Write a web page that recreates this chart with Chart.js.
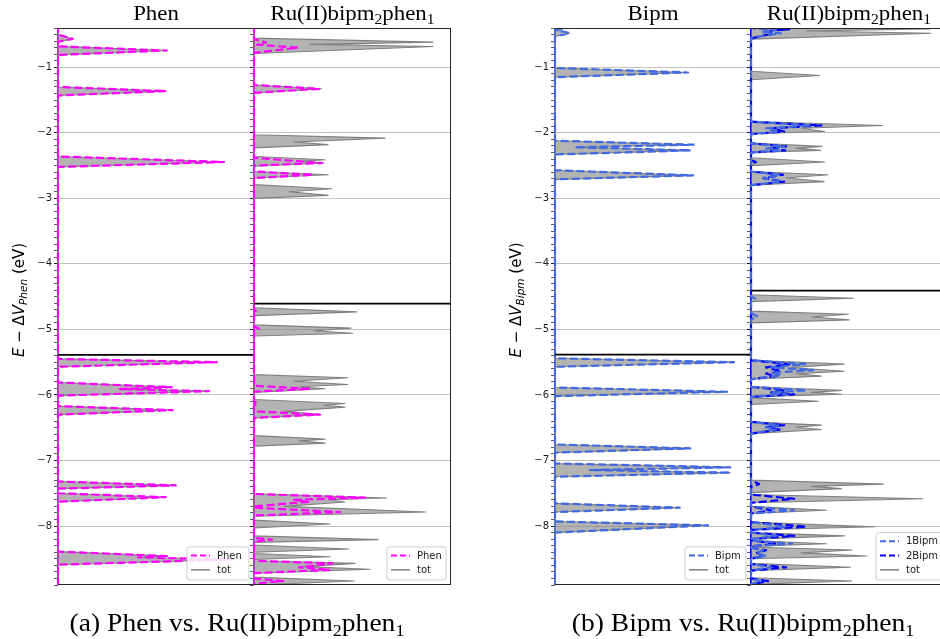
<!DOCTYPE html>
<html><head><meta charset="utf-8">
<script src="https://cdn.jsdelivr.net/npm/chart.js@4.4.1/dist/chart.umd.min.js"></script>
<style>
html,body{margin:0;padding:0;background:#fff;overflow:hidden;width:940px;height:639px}
#wrap{position:relative;width:940px;height:639px;overflow:hidden;background:#fff}
canvas{position:absolute}
svg{position:absolute;left:0;top:0}
</style></head><body>
<div id="wrap">
<canvas id="aL" width="256" height="575" style="left:0px;top:20px"></canvas>
<canvas id="aR" width="206" height="575" style="left:248px;top:20px"></canvas>
<canvas id="bL" width="256" height="575" style="left:497px;top:20px"></canvas>
<canvas id="bR" width="206" height="575" style="left:745px;top:20px"></canvas>
<svg width="940" height="639" xmlns="http://www.w3.org/2000/svg">
  <g font-family="'Liberation Serif', 'DejaVu Serif', serif" font-size="22" fill="#000" text-anchor="middle">
    <text transform="translate(156,19.5) scale(1.04,1)">Phen</text>
    <text transform="translate(352.5,19.5) scale(1.04,1)">Ru(II)bipm<tspan dy="4" font-size="15">2</tspan><tspan dy="-4">phen</tspan><tspan dy="4" font-size="15">1</tspan></text>
    <text transform="translate(653,19.5) scale(1.04,1)">Bipm</text>
    <text transform="translate(849,19.5) scale(1.04,1)">Ru(II)bipm<tspan dy="4" font-size="15">2</tspan><tspan dy="-4">phen</tspan><tspan dy="4" font-size="15">1</tspan></text>
  </g>
  <g font-family="'Liberation Serif', 'DejaVu Serif', serif" font-size="26" fill="#000" text-anchor="middle">
    <text transform="translate(237,631) scale(1.06,1)">(a) Phen vs. Ru(II)bipm<tspan dy="5" font-size="17">2</tspan><tspan dy="-5">phen</tspan><tspan dy="5" font-size="17">1</tspan></text>
    <text transform="translate(743,631) scale(1.06,1)">(b) Bipm vs. Ru(II)bipm<tspan dy="5" font-size="17">2</tspan><tspan dy="-5">phen</tspan><tspan dy="5" font-size="17">1</tspan></text>
  </g>
  <g font-family="'DejaVu Sans', sans-serif" font-size="15" fill="#000" text-anchor="middle">
    <text transform="translate(24,300) rotate(-90)"><tspan font-style="italic">E</tspan> − Δ<tspan font-style="italic">V</tspan><tspan font-style="italic" font-size="10.5" dy="3">Phen</tspan><tspan dy="-3"> (eV)</tspan></text>
    <text transform="translate(521,300) rotate(-90)"><tspan font-style="italic">E</tspan> − Δ<tspan font-style="italic">V</tspan><tspan font-style="italic" font-size="10.5" dy="3">Bipm</tspan><tspan dy="-3"> (eV)</tspan></text>
  </g>
</svg>
</div>
<script>
// ---------------- data (energy in eV, DOS in arbitrary units) ----------------
const energyRange = [-8.9, -0.4];
const homoLevels = { phen: -5.387, ruA: -4.605, bipm: -5.383, ruB: -4.407 };

// isolated Phen fragment: total DOS (identical to its Phen projection)
const phenFrag = [
  [-0.35,0],[-0.50,0],[-0.566,1.47],[-0.61,0],[-0.68,0],[-0.744,10.87],[-0.81,0],
  [-1.30,0],[-1.363,10.8],[-1.43,0],
  [-2.36,0],[-2.445,16.6],[-2.52,0],
  [-5.45,0],[-5.50,15.87],[-5.57,0],
  [-5.81,0],[-5.881,11.37],[-5.91,6.2],[-5.942,15.1],[-6.01,0],
  [-6.17,0],[-6.232,11.47],[-6.30,0],
  [-7.32,0],[-7.38,11.77],[-7.43,0],
  [-7.50,0],[-7.56,10.77],[-7.63,0],
  [-8.39,0],[-8.46,11.0],[-8.48,8.0],[-8.51,17.5],[-8.59,0],[-8.95,0]
];

// Ru(II)bipm2phen1 complex, panel (a): total DOS
const ruTotA = [
  [-0.35,0],[-0.555,0],[-0.616,17.87],[-0.65,5.6],[-0.683,17.9],[-0.79,0],
  [-1.27,0],[-1.328,6.77],[-1.39,0],
  [-2.03,0],[-2.08,13.1],[-2.14,4.0],[-2.18,7.4],[-2.23,0],
  [-2.36,0],[-2.41,7.1],[-2.435,4.5],[-2.46,7.0],[-2.51,0],
  [-2.59,0],[-2.639,7.43],[-2.69,0],
  [-2.79,0],[-2.852,7.77],[-2.90,3.5],[-2.954,7.43],[-3.00,0],
  [-4.67,0],[-4.732,10.27],[-4.79,0],
  [-4.93,0],[-4.98,9.7],[-5.02,6.0],[-5.058,9.87],[-5.10,0],
  [-5.69,0],[-5.738,9.37],[-5.79,4.0],[-5.84,9.37],[-5.875,4.5],[-5.906,7.1],[-5.96,0],
  [-6.07,0],[-6.13,9.1],[-6.158,7.0],[-6.186,9.1],[-6.25,3.0],[-6.30,6.6],[-6.35,0],
  [-6.62,0],[-6.674,7.1],[-6.70,4.5],[-6.735,7.1],[-6.78,0],
  [-7.51,0],[-7.573,13.27],[-7.60,7.5],[-7.634,9.1],[-7.70,3.0],[-7.787,17.17],[-7.85,0],
  [-7.91,0],[-7.97,7.6],[-8.03,0],
  [-8.15,0],[-8.207,12.43],[-8.25,0],
  [-8.29,0],[-8.35,9.47],[-8.40,0],
  [-8.42,0],[-8.47,7.6],[-8.51,0],
  [-8.53,0],[-8.57,10.1],[-8.62,5.0],[-8.66,11.6],[-8.72,0],
  [-8.78,0],[-8.84,10.0],[-8.90,0],[-8.95,0]
];
// Ru complex, panel (a): Phen projection
const ruPhen = [
  [-0.35,0],[-0.57,0],[-0.62,1.2],[-0.655,0.3],[-0.70,4.4],[-0.78,0],
  [-1.27,0],[-1.328,6.5],[-1.39,0],
  [-2.38,0],[-2.46,6.8],[-2.50,0],
  [-2.59,0],[-2.639,5.9],[-2.69,0],
  [-4.70,0],[-4.73,0.3],[-4.76,0],
  [-4.95,0],[-4.99,0.5],[-5.03,0],
  [-5.86,0],[-5.906,5.6],[-5.95,0],
  [-6.10,0],[-6.13,0.4],[-6.16,0],
  [-6.25,0],[-6.30,6.6],[-6.35,0],
  [-7.51,0],[-7.567,11.1],[-7.60,4.0],[-7.63,5.5],[-7.70,0],
  [-7.72,0],[-7.787,8.6],[-7.84,0],
  [-8.18,0],[-8.207,1.8],[-8.24,0],
  [-8.53,0],[-8.57,7.8],[-8.63,4.5],[-8.67,7.6],[-8.72,0],
  [-8.80,0],[-8.84,2.9],[-8.88,0],[-8.95,0]
];

// isolated Bipm fragment: total DOS (identical to its Bipm projection)
const bipmFrag = [
  [-0.35,0],[-0.39,1.5],[-0.43,0.1],[-0.479,1.47],[-0.53,0],
  [-1.01,0],[-1.079,13.3],[-1.15,0],
  [-2.12,0],[-2.181,13.87],[-2.22,2.0],[-2.268,13.57],[-2.33,0],
  [-2.57,0],[-2.649,13.8],[-2.71,0],
  [-5.44,0],[-5.50,17.9],[-5.57,0],
  [-5.886,0],[-5.951,17.2],[-6.018,0],
  [-6.755,0],[-6.815,13.53],[-6.88,0],
  [-7.045,0],[-7.105,17.53],[-7.145,3.5],[-7.186,17.53],[-7.247,0],
  [-7.654,0],[-7.72,12.47],[-7.787,0],
  [-7.93,0],[-7.99,15.3],[-8.10,0],[-8.95,0]
];

// Ru complex, panel (b): total DOS
const ruTotB = [
  [-0.35,0],[-0.40,1.0],[-0.413,17.8],[-0.445,5.5],[-0.479,17.9],[-0.57,0],
  [-1.06,0],[-1.125,6.83],[-1.19,0],
  [-1.826,0],[-1.887,13.07],[-1.93,5.0],[-1.979,7.33],[-2.014,0],
  [-2.155,0],[-2.207,7.07],[-2.237,4.5],[-2.268,6.93],[-2.30,0],
  [-2.38,0],[-2.445,7.33],[-2.50,0],
  [-2.59,0],[-2.639,7.67],[-2.69,3.5],[-2.745,7.27],[-2.80,0],
  [-4.47,0],[-4.524,10.17],[-4.575,0],
  [-4.72,0],[-4.768,9.67],[-4.81,6.0],[-4.854,9.77],[-4.90,0],
  [-5.47,0],[-5.53,9.27],[-5.58,4.0],[-5.637,9.27],[-5.675,4.5],[-5.713,7.0],[-5.76,0],
  [-5.875,0],[-5.93,9.0],[-5.96,6.0],[-5.99,9.0],[-6.03,0],
  [-6.04,0],[-6.095,6.7],[-6.145,0],
  [-6.41,0],[-6.46,7.0],[-6.493,4.5],[-6.526,7.0],[-6.59,0],
  [-7.30,0],[-7.36,13.17],[-7.395,6.0],[-7.43,9.0],[-7.49,0],
  [-7.52,0],[-7.584,17.1],[-7.645,0],
  [-7.70,0],[-7.76,7.5],[-7.81,0],
  [-7.94,0],[-8.01,12.3],[-8.06,0],
  [-8.10,0],[-8.15,9.3],[-8.20,0],
  [-8.22,0],[-8.27,7.5],[-8.31,0],
  [-8.32,0],[-8.366,10.03],[-8.41,5.0],[-8.457,11.53],[-8.50,0],
  [-8.57,0],[-8.63,9.9],[-8.68,0],
  [-8.79,0],[-8.84,10.0],[-8.89,0],[-8.95,0]
];
// Ru complex, panel (b): first Bipm ligand projection
const ruBipm1 = [
  [-0.35,0],[-0.40,0],[-0.43,2.5],[-0.46,1.0],[-0.48,3.0],[-0.55,0],
  [-1.83,0],[-1.887,6.0],[-1.93,1.5],[-1.98,2.8],[-2.02,0],
  [-2.16,0],[-2.207,3.3],[-2.24,1.5],[-2.268,3.0],[-2.30,0],
  [-2.59,0],[-2.639,2.9],[-2.69,1.2],[-2.745,3.0],[-2.80,0],
  [-4.50,0],[-4.524,0.4],[-4.55,0],
  [-4.75,0],[-4.80,0.6],[-4.85,0],
  [-5.47,0],[-5.53,5.4],[-5.58,2.0],[-5.62,6.2],[-5.66,2.0],[-5.70,3.0],[-5.76,0],
  [-5.875,0],[-5.93,5.5],[-5.96,2.0],[-5.99,3.5],[-6.03,0],
  [-6.41,0],[-6.46,2.8],[-6.49,1.5],[-6.526,2.5],[-6.59,0],
  [-7.70,0],[-7.76,4.3],[-7.81,0],
  [-7.94,0],[-8.01,3.5],[-8.06,0],
  [-8.10,0],[-8.15,2.5],[-8.20,0],
  [-8.22,0],[-8.27,4.1],[-8.31,0],
  [-8.33,0],[-8.37,1.2],[-8.41,0.5],[-8.46,1.5],[-8.50,0],
  [-8.58,0],[-8.63,2.0],[-8.68,0],
  [-8.80,0],[-8.84,1.0],[-8.89,0],[-8.95,0]
];
// Ru complex, panel (b): second Bipm ligand projection
const ruBipm2 = [
  [-0.35,0],[-0.40,0],[-0.42,3.8],[-0.45,1.2],[-0.48,2.2],[-0.56,0],
  [-1.83,0],[-1.887,7.0],[-1.93,2.0],[-1.98,3.3],[-2.02,0],
  [-2.16,0],[-2.207,3.5],[-2.24,1.8],[-2.268,3.4],[-2.30,0],
  [-2.42,0],[-2.445,0.5],[-2.47,0],
  [-2.59,0],[-2.639,3.2],[-2.69,1.2],[-2.745,3.3],[-2.80,0],
  [-5.47,0],[-5.53,3.8],[-5.58,1.5],[-5.637,3.0],[-5.675,1.5],[-5.713,2.5],[-5.76,0],
  [-5.875,0],[-5.93,3.4],[-5.96,2.0],[-5.99,4.3],[-6.03,0],
  [-6.41,0],[-6.46,3.3],[-6.49,1.5],[-6.526,3.0],[-6.59,0],
  [-7.30,0],[-7.36,0.8],[-7.40,0],
  [-7.52,0],[-7.584,4.3],[-7.645,0],
  [-7.70,0],[-7.76,2.0],[-7.81,0],
  [-7.94,0],[-8.01,5.5],[-8.06,0],
  [-8.10,0],[-8.15,4.3],[-8.20,0],
  [-8.22,0],[-8.27,2.5],[-8.31,0],
  [-8.33,0],[-8.37,1.5],[-8.41,0.6],[-8.46,1.2],[-8.50,0],
  [-8.58,0],[-8.63,3.5],[-8.68,0],
  [-8.80,0],[-8.84,1.7],[-8.89,0],[-8.95,0]
];

// ---------------- styles ----------------
const C = { phen:'#ff00ff', bipm:'#4169e1', bipm1:'#4169e1', bipm2:'#0000ff', tot:'#808080', totFill:'rgba(128,128,128,0.6)' };
const toXY = arr => arr.map(p => ({ x: p[1], y: p[0] }));
const isMajor = v => Math.abs(v - Math.round(v)) < 1e-6;
const CLIP = { left: 2, top: 0, right: 0, bottom: 0 };

function projDS(label, arr, color) {
  return { label, data: toXY(arr), borderColor: color, borderWidth: 2.2, borderDash: [8, 3.5],
    borderJoinStyle: 'round', borderCapStyle: 'butt', pointRadius: 0, fill: false, clip: CLIP, tension: 0 };
}
function totDS(arr) {
  return { label: 'tot', data: toXY(arr), borderColor: C.tot, borderWidth: 1.1, backgroundColor: C.totFill,
    fill: 'origin', borderJoinStyle: 'round', pointRadius: 0, clip: CLIP, tension: 0 };
}
function homoDS(e, xMax) {
  return { label: 'HOMO', data: [{ x: 0, y: e }, { x: xMax, y: e }], borderColor: '#000', borderWidth: 1.8,
    pointRadius: 0, fill: false, clip: CLIP };
}

const framePlugin = {
  id: 'frame',
  beforeDatasetsDraw(chart, args, o) {
    const { ctx, chartArea: a } = chart;
    ctx.save(); ctx.strokeStyle = o.spine; ctx.lineWidth = 2;
    ctx.beginPath(); ctx.moveTo(a.left, a.top); ctx.lineTo(a.left, a.bottom); ctx.stroke(); ctx.restore();
  },
  afterDatasetsDraw(chart, args, o) {
    const { ctx, chartArea: a } = chart;
    ctx.save(); ctx.strokeStyle = '#262626'; ctx.lineWidth = 1;
    ctx.beginPath();
    ctx.moveTo(a.left, a.top + 0.5); ctx.lineTo(a.right, a.top + 0.5);
    ctx.moveTo(a.left, a.bottom - 0.5); ctx.lineTo(a.right, a.bottom - 0.5);
    ctx.moveTo(a.right - 0.5, a.top); ctx.lineTo(a.right - 0.5, a.bottom);
    ctx.stroke(); ctx.restore();
  }
};

const boxLegend = {
  id: 'boxLegend',
  afterDraw(chart, args, o) {
    if (!o.items) return;
    const { ctx, chartArea: a } = chart;
    const rowH = 14.3, w = o.width, h = o.items.length * rowH + 4.5;
    const x = a.right - 5 - w, y = a.bottom - 5 - h;
    ctx.save();
    ctx.beginPath();
    const r = 3;
    ctx.moveTo(x + r, y); ctx.lineTo(x + w - r, y); ctx.arcTo(x + w, y, x + w, y + r, r);
    ctx.lineTo(x + w, y + h - r); ctx.arcTo(x + w, y + h, x + w - r, y + h, r);
    ctx.lineTo(x + r, y + h); ctx.arcTo(x, y + h, x, y + h - r, r);
    ctx.lineTo(x, y + r); ctx.arcTo(x, y, x + r, y, r); ctx.closePath();
    ctx.fillStyle = 'rgba(255,255,255,0.85)'; ctx.fill();
    ctx.strokeStyle = '#cccccc'; ctx.lineWidth = 1; ctx.stroke();
    o.items.forEach((it, i) => {
      const cy = y + 8.6 + i * rowH;
      ctx.beginPath(); ctx.setLineDash(it.dash || []); ctx.lineDashOffset = 0;
      ctx.strokeStyle = it.color; ctx.lineWidth = it.width;
      ctx.moveTo(x + 4, cy); ctx.lineTo(x + 23, cy); ctx.stroke(); ctx.setLineDash([]);
      ctx.fillStyle = '#1a1a1a'; ctx.font = '10px "DejaVu Sans"'; ctx.textBaseline = 'middle'; ctx.textAlign = 'left';
      ctx.fillText(it.label, x + 30, cy + 0.5);
    });
    ctx.restore();
  }
};

function makePanel(id, cfg) {
  new Chart(document.getElementById(id), {
    type: 'line',
    data: { datasets: cfg.datasets },
    plugins: [framePlugin, boxLegend],
    options: {
      responsive: false, animation: false, events: [], indexAxis: 'y',
      layout: { padding: { top: 8, bottom: 10, left: 0, right: cfg.padRight } },
      plugins: {
        legend: { display: false }, tooltip: { enabled: false },
        frame: { spine: cfg.spine },
        boxLegend: { items: cfg.legend, width: cfg.legendWidth }
      },
      scales: {
        x: { type: 'linear', min: 0, max: cfg.xMax, display: false },
        y: {
          type: 'linear', min: energyRange[0], max: energyRange[1], position: 'left',
          afterFit: s => { s.width = cfg.axisWidth; },
          border: { display: false },
          ticks: {
            stepSize: 0.1, autoSkip: false, display: cfg.labels, padding: 2,
            color: '#1a1a1a', font: { family: 'DejaVu Sans', size: 10 },
            callback: v => isMajor(v) ? (Math.round(v) < 0 ? '\u2212' : '') + Math.abs(Math.round(v)) : ''
          },
          grid: {
            drawTicks: true, tickLength: 4,
            color: c => (c.tick && isMajor(c.tick.value)) ? '#c2c2c2' : 'rgba(0,0,0,0)',
            lineWidth: 1,
            tickColor: c => (c.tick && isMajor(c.tick.value)) ? '#1a1a1a' : '#333',
            tickWidth: c => (c.tick && isMajor(c.tick.value)) ? 1 : 0.8
          }
        }
      }
    }
  });
}

const totItem = { label: 'tot', color: C.tot, width: 1.5 };

makePanel('aL', {
  xMax: 19.6, axisWidth: 58, padRight: 2, labels: true, spine: C.phen, legendWidth: 62,
  datasets: [homoDS(homoLevels.phen, 19.6), projDS('Phen', phenFrag, C.phen), totDS(phenFrag)],
  legend: [{ label: 'Phen', color: C.phen, width: 2, dash: [6, 3] }, totItem]
});
makePanel('aR', {
  xMax: 19.7, axisWidth: 6, padRight: 3, labels: false, spine: C.phen, legendWidth: 59,
  datasets: [homoDS(homoLevels.ruA, 19.7), projDS('Phen', ruPhen, C.phen), totDS(ruTotA)],
  legend: [{ label: 'Phen', color: C.phen, width: 2, dash: [6, 3] }, totItem]
});
makePanel('bL', {
  xMax: 19.6, axisWidth: 58, padRight: 2, labels: true, spine: C.bipm, legendWidth: 61,
  datasets: [homoDS(homoLevels.bipm, 19.6), projDS('Bipm', bipmFrag, C.bipm), totDS(bipmFrag)],
  legend: [{ label: 'Bipm', color: C.bipm, width: 2, dash: [6, 3] }, totItem]
});
makePanel('bR', {
  xMax: 19.6, axisWidth: 6, padRight: 3, labels: false, spine: C.bipm2, legendWidth: 67,
  datasets: [homoDS(homoLevels.ruB, 19.6), projDS('1Bipm', ruBipm1, C.bipm1), projDS('2Bipm', ruBipm2, C.bipm2), totDS(ruTotB)],
  legend: [{ label: '1Bipm', color: C.bipm1, width: 2, dash: [6, 3] }, { label: '2Bipm', color: C.bipm2, width: 2, dash: [6, 3] }, totItem]
});
</script>
</body></html>
